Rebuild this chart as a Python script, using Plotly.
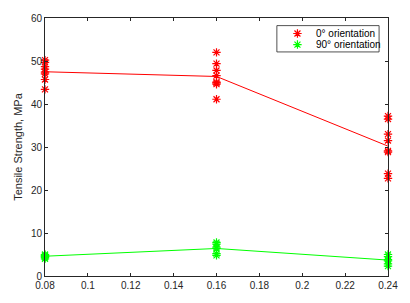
import plotly.graph_objects as go

x_levels = [0.08, 0.16, 0.24]
red_pts = {
    0.08: [50.2, 49.7, 48.7, 48.1, 47.4, 47.0, 45.7, 43.4],
    0.16: [52.0, 49.4, 47.8, 46.6, 45.1, 44.6, 44.9, 41.1],
    0.24: [37.2, 36.5, 33.0, 31.5, 29.1, 28.8, 23.8, 22.7],
}
green_pts = {
    0.08: [4.0, 4.3, 4.5, 4.6, 4.8, 5.0],
    0.16: [7.8, 7.4, 6.7, 6.4, 5.2, 4.8],
    0.24: [5.0, 4.5, 3.8, 3.5, 2.8, 2.3],
}
red_mean = [47.5, 46.4, 30.2]
green_mean = [4.6, 6.4, 3.7]
series_names = ["0° orientation", "90° orientation"]
x_ticks = [0.08, 0.1, 0.12, 0.14, 0.16, 0.18, 0.2, 0.22, 0.24]
y_ticks = [0, 10, 20, 30, 40, 50, 60]

RED = "#ff0000"
GREEN = "#00ff00"
TXT = "#262626"
FONT = "Liberation Sans, Arial"

fig = go.Figure()

def marker(color):
    return dict(symbol="asterisk-open", size=7, color=color,
                line=dict(color=color, width=1.2))

def scatter(pts, color, name):
    xs, ys = [], []
    for k, v in pts.items():
        xs += [k] * len(v)
        ys += v
    return go.Scatter(x=xs, y=ys, mode="markers", name=name, cliponaxis=False,
                      marker=marker(color), showlegend=False)

fig.add_trace(scatter(red_pts, RED, series_names[0]))
fig.add_trace(scatter(green_pts, GREEN, series_names[1]))
fig.add_trace(go.Scatter(x=x_levels, y=red_mean, mode="lines", showlegend=False,
                         line=dict(color=RED, width=1)))
fig.add_trace(go.Scatter(x=x_levels, y=green_mean, mode="lines", showlegend=False,
                         line=dict(color=GREEN, width=1)))

# manual legend (compact, MATLAB-like)
leg_x_marker = 0.736
leg_x_text = 0.7855
leg_rows = [0.940, 0.897]
for name, color, yy in zip(series_names, [RED, GREEN], leg_rows):
    fig.add_trace(go.Scatter(x=[leg_x_marker], y=[yy], mode="markers",
                             xaxis="x2", yaxis="y2", showlegend=False,
                             marker=marker(color), hoverinfo="skip"))
    fig.add_annotation(x=leg_x_text, y=yy, xref="paper", yref="paper",
                       text=name, showarrow=False, xanchor="left", yanchor="middle",
                       font=dict(family=FONT, size=10, color="black"))
fig.add_shape(type="rect", xref="paper", yref="paper",
              x0=0.676, x1=0.974, y0=0.8685, y1=0.9705,
              line=dict(color=TXT, width=0.8), fillcolor="white", layer="below")

axis_common = dict(showgrid=False, zeroline=False, showline=True, linecolor=TXT,
                   linewidth=1, mirror="ticks", ticks="inside", ticklen=3,
                   tickcolor=TXT, tickwidth=1,
                   tickfont=dict(family=FONT, size=10, color=TXT))

fig.update_xaxes(range=[0.08, 0.24], tickvals=x_ticks,
                 ticktext=[f"{v:g}" for v in x_ticks], **axis_common)
fig.update_yaxes(range=[0, 60], tickvals=y_ticks,
                 title=dict(text="Tensile Strength, MPa", standoff=6,
                            font=dict(family=FONT, size=11, color=TXT)),
                 **axis_common)

fig.update_layout(
    width=410, height=303,
    margin=dict(l=45, r=20, t=12, b=20),
    paper_bgcolor="white", plot_bgcolor="white",
    xaxis2=dict(overlaying="x", range=[0, 1], visible=False),
    yaxis2=dict(overlaying="y", range=[0, 1], visible=False),
    showlegend=False,
)

fig.write_html("out.html")
